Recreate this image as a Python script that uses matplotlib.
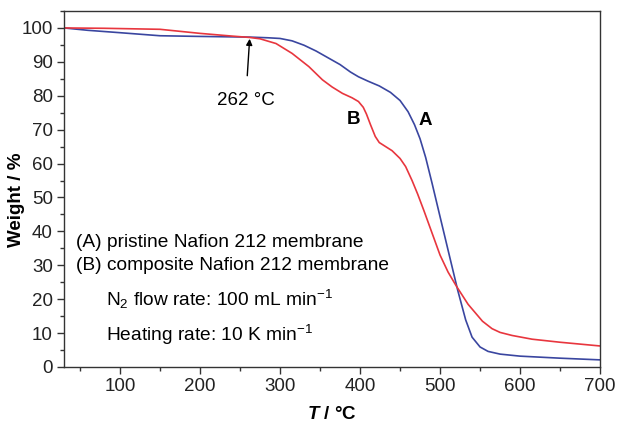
import matplotlib
matplotlib.use("Agg")
import matplotlib.pyplot as plt
from matplotlib.ticker import MultipleLocator

plt.rcParams['font.family'] = ['Liberation Sans', 'DejaVu Sans']
plt.rcParams['mathtext.fontset'] = 'custom'
plt.rcParams['mathtext.rm'] = 'Liberation Sans'
plt.rcParams['mathtext.it'] = 'Liberation Sans:italic'
plt.rcParams['mathtext.bf'] = 'Liberation Sans:bold'
plt.rcParams['mathtext.bfit'] = 'Liberation Sans:bold:italic'

# Curve A: pristine Nafion 212 membrane
temp_a = [30, 60, 100, 150, 200, 262, 285, 300, 315, 330, 345, 360, 375, 388, 398, 410,
          424, 438, 450, 460, 468, 475, 482, 490, 499, 511, 522, 532, 540, 550, 560,
          575, 600, 650, 700]
weight_a = [100, 99.3, 98.6, 97.7, 97.5, 97.3, 97.1, 96.9, 96.2, 94.9, 93.2, 91.2, 89.2,
            87.0, 85.6, 84.3, 82.9, 81.0, 78.6, 75.3, 71.5, 67.3, 61.8, 54.2, 45.3, 33.5,
            22.7, 13.9, 8.8, 5.9, 4.6, 3.8, 3.2, 2.6, 2.1]

# Curve B: composite Nafion 212 membrane
temp_b = [30, 80, 150, 200, 240, 262, 275, 295, 315, 336, 353, 365, 378, 390, 398, 404,
          408, 413, 419, 424, 432, 440, 450, 457, 465, 472, 480, 490, 500, 510, 520, 535,
          553, 565, 575, 590, 615, 650, 700]
weight_b = [100, 99.9, 99.6, 98.4, 97.6, 97.2, 96.8, 95.4, 92.5, 88.6, 84.7, 82.6, 80.7,
            79.4, 78.3, 76.6, 74.6, 71.5, 68.0, 66.2, 65.0, 63.8, 61.5, 59.1, 55.0, 51.0,
            46.0, 39.5, 33.0, 28.0, 24.0, 18.5, 13.5, 11.3, 10.2, 9.3, 8.2, 7.3, 6.2]

legend_lines = ["(A) pristine Nafion 212 membrane", "(B) composite Nafion 212 membrane"]
flow_text = r"N$_\mathregular{2}$ flow rate: 100 mL min$^\mathregular{-1}$"
heat_text = r"Heating rate: 10 K min$^\mathregular{-1}$"
onset_temp = 262
onset_weight = 97.3

fig = plt.figure(figsize=(6.18, 4.23), dpi=100)
ax = fig.add_axes([0.1036, 0.1324, 0.8674, 0.8416])

ax.plot(temp_a, weight_a, color='#3a46a0', lw=1.2)
ax.plot(temp_b, weight_b, color='#e8363e', lw=1.2)

ax.set_xlim(30, 700)
ax.set_ylim(0, 105)
ax.xaxis.set_major_locator(MultipleLocator(100))
ax.xaxis.set_minor_locator(MultipleLocator(50))
ax.yaxis.set_major_locator(MultipleLocator(10))
ax.yaxis.set_minor_locator(MultipleLocator(5))
ax.tick_params(which='major', length=5, width=1, labelsize=13.5, direction='out',
               colors='#333333', labelcolor='#222222', pad=3)
ax.tick_params(which='minor', length=3, width=1, direction='out', colors='#333333')
for s in ax.spines.values():
    s.set_linewidth(1.0)
    s.set_color('#333333')

ax.set_xlabel(r"$\mathbfit{T}$ / °C", fontsize=13.5, fontweight='bold')
ax.xaxis.set_label_coords(0.5, -0.11)
ax.set_ylabel("Weight / %", fontsize=13.5, fontweight='bold', va='center')
ax.yaxis.set_label_coords(-0.088, 0.47)

ax.annotate(f"{onset_temp} °C", xy=(onset_temp, onset_weight - 0.5),
            xytext=(onset_temp - 5, 78.5), fontsize=13.5, ha='center', va='center',
            arrowprops=dict(arrowstyle='-|>', color='black', lw=1, shrinkA=10, shrinkB=0,
                            mutation_scale=9))

ax.text(392, 72.9, "B", fontsize=13.5, fontweight='bold', ha='center', va='center')
ax.text(482, 72.6, "A", fontsize=13.5, fontweight='bold', ha='center', va='center')

ax.text(45, 36.6, legend_lines[0], fontsize=13.8, va='center')
ax.text(45, 29.8, legend_lines[1], fontsize=13.8, va='center')
ax.text(82.5, 19.8, flow_text, fontsize=13.8, va='center')
ax.text(82.5, 9.4, heat_text, fontsize=13.8, va='center')

fig.savefig("out.png", dpi=100)
